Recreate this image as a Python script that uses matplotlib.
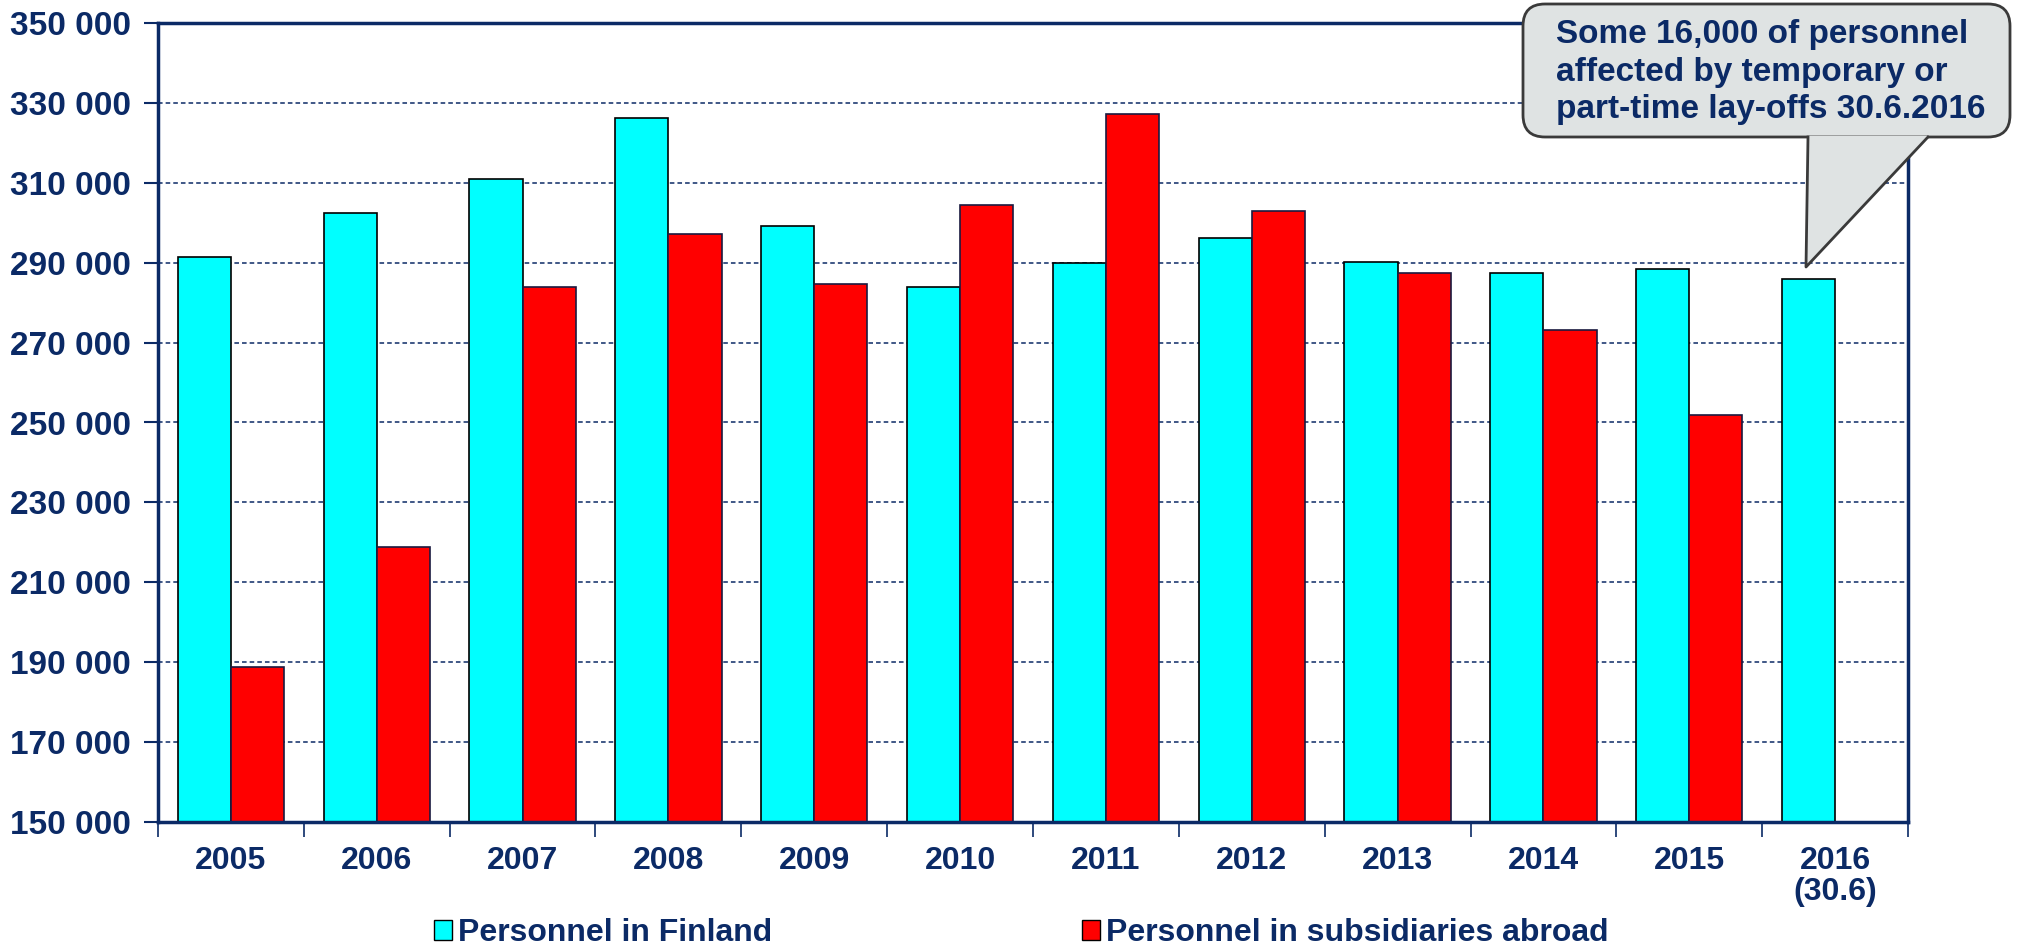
import numpy as np, matplotlib
matplotlib.use("Agg")
import matplotlib.pyplot as plt
from matplotlib.patches import FancyBboxPatch, Polygon, Patch
from matplotlib.lines import Line2D
from matplotlib.transforms import IdentityTransform

years = ["2005", "2006", "2007", "2008", "2009", "2010", "2011", "2012", "2013", "2014", "2015", "2016\n(30.6)"]
finland = [291500, 302400, 311000, 326300, 299100, 283900, 289800, 296300, 290200, 287400, 288500, 285900]
abroad = [188900, 218800, 284000, 297300, 284700, 304500, 327200, 303000, 287400, 273200, 251900, np.nan]
yticks = list(range(150000, 350001, 20000))
callout = "Some 16,000 of personnel\naffected by temporary or\npart-time lay-offs 30.6.2016"

navy = "#0B2A66"
plt.rcParams["font.family"] = ["Liberation Sans", "DejaVu Sans"]
fig = plt.figure(figsize=(20.18, 9.46), dpi=100)
ax = fig.add_axes([158/2018, 1-822/946, 1750/2018, 799/946])

x = np.arange(len(years))
w = 0.365
ax.bar(x - w/2, finland, w, color="#00FFFF", edgecolor="black", linewidth=1.2, zorder=3)
ax.bar(x + w/2, abroad, w, color="#FF0000", edgecolor="#1a1a40", linewidth=1.2, zorder=3)

ax.set_xlim(-0.5, len(years) - 0.5)
ax.set_ylim(150000, 350000)
ax.set_yticks(yticks)
ax.set_yticklabels([f"{v:,}".replace(",", " ") for v in yticks], fontsize=24, fontweight="bold", color=navy)
ax.set_xticks(x)
ax.set_xticklabels(years, fontsize=23, fontweight="bold", color=navy, linespacing=1.05)
ax.set_xticks(np.arange(-0.5, len(years)), minor=True)
ax.tick_params(axis="x", which="major", length=0, pad=17)
ax.tick_params(axis="x", which="minor", length=11, width=1.2, color=navy, direction="out")
ax.tick_params(axis="y", length=10, width=1.5, color=navy, pad=9.5)
ax.grid(axis="y", color=navy, linestyle=(0, (3, 2)), linewidth=1.1, zorder=0)
for s in ax.spines.values():
    s.set_color(navy); s.set_linewidth(2.5); s.set_zorder(4)

# legend
handles = [Patch(facecolor="#00FFFF", edgecolor="black"), Patch(facecolor="#FF0000", edgecolor="black")]
fig.legend(handles, ["Personnel in Finland", "Personnel in subsidiaries abroad"], loc="center left",
           bbox_to_anchor=(434/2018, 1-933/946), ncol=2, frameon=False, handlelength=0.55, handleheight=0.6,
           handletextpad=0.2, columnspacing=9.7, borderpad=0, borderaxespad=0,
           prop={"size": 23, "weight": "bold"}, labelcolor=navy)

# callout box (pixel coords, origin bottom-left)
H = 946
box = FancyBboxPatch((1523, H-137), 2010-1523, 133, boxstyle="round,pad=0,rounding_size=22",
                     facecolor="#DFE3E3", edgecolor="#3a3a3a", linewidth=2, transform=IdentityTransform())
fig.add_artist(box)
tip = [(1808, H-136), (1806, H-267), (1928, H-136)]
fig.add_artist(Polygon(tip, closed=True, facecolor="#DFE3E3", edgecolor="none", transform=IdentityTransform()))
fig.add_artist(Line2D([1808, 1806, 1928], [H-137, H-267, H-137], color="#3a3a3a", linewidth=2,
                      transform=IdentityTransform()))
fig.text(1556/2018, 1-72/946, callout, fontsize=24, fontweight="bold", color=navy,
         ha="left", va="center", linespacing=1.28)

fig.savefig("out.png", dpi=100)
